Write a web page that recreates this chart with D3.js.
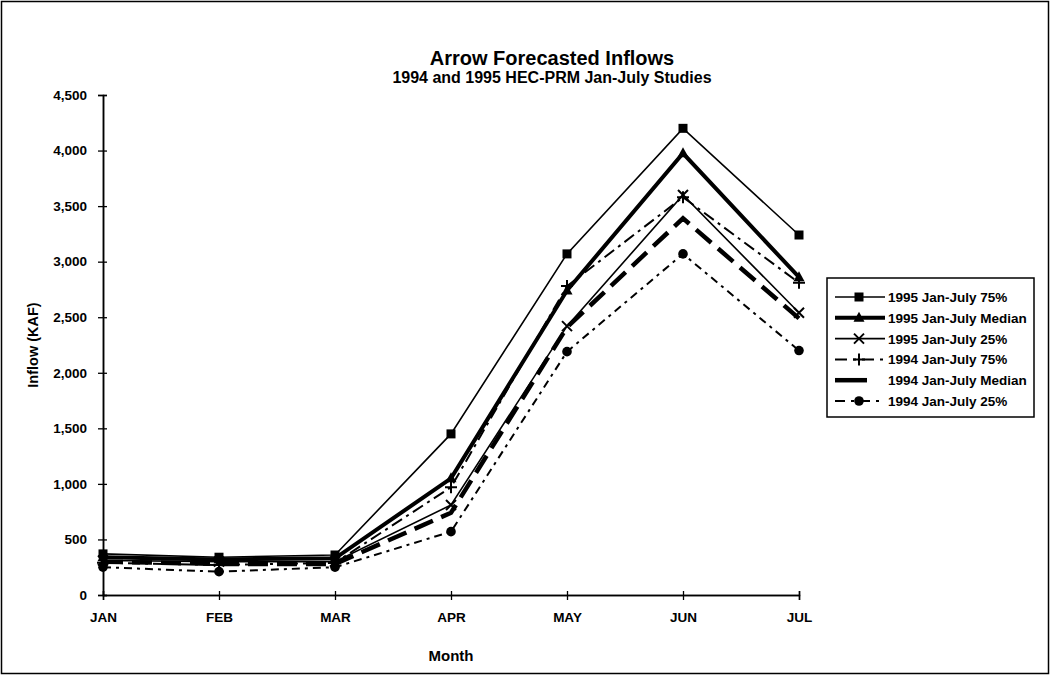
<!DOCTYPE html>
<html>
<head>
<meta charset="utf-8">
<script src="https://cdn.jsdelivr.net/npm/d3@7"></script>
<style>
  html, body { margin: 0; padding: 0; background: #fff; }
  svg { display: block; font-family: "Liberation Sans", Arial, Helvetica, sans-serif; }
</style>
</head>
<body>
<svg id="chart" width="1051" height="677"></svg>
<script>
const months = ["JAN", "FEB", "MAR", "APR", "MAY", "JUN", "JUL"];
const s1995_75  = [370, 340, 360, 1450, 3070, 4200, 3240];
const s1995_med = [340, 320, 330, 1050, 2740, 3975, 2860];
const s1995_25  = [310, 300, 300, 810, 2420, 3600, 2540];
const s1994_75  = [290, 270, 290, 970, 2780, 3580, 2810];
const s1994_med = [300, 280, 280, 740, 2410, 3390, 2490];
const s1994_25  = [250, 210, 250, 570, 2190, 3070, 2200];
const seriesNames = ["1995 Jan-July 75%", "1995 Jan-July Median", "1995 Jan-July 25%",
                     "1994 Jan-July 75%", "1994 Jan-July Median", "1994 Jan-July 25%"];
const yTicks = [0, 500, 1000, 1500, 2000, 2500, 3000, 3500, 4000, 4500];

const styles = [
  {values: s1995_75,  width: 1.6, dash: null,          legendDash: null,      marker: "square"},
  {values: s1995_med, width: 4,   dash: null,          legendDash: null,      marker: "triangle"},
  {values: s1995_25,  width: 1.6, dash: null,          legendDash: null,      marker: "x"},
  {values: s1994_75,  width: 2,   dash: "12,5,3,5",    legendDash: "12,6,3,6", marker: "plus"},
  {values: s1994_med, width: 4.5, dash: "20,9",        legendDash: "32,40",   marker: null},
  {values: s1994_25,  width: 2,   dash: "8,5,3,5",     legendDash: "10,6,3,6", marker: "circle"}
];

const svg = d3.select("#chart");
// outer frame
svg.append("rect").attr("x", 1.5).attr("y", 1.5).attr("width", 1047).attr("height", 672)
  .attr("fill", "none").attr("stroke", "#000").attr("stroke-width", 1.5);

const x = d3.scalePoint().domain(months).range([103, 799]);
const y = d3.scaleLinear().domain([0, 4500]).range([595, 95]);

// titles
svg.append("text").attr("x", 552).attr("y", 65).attr("text-anchor", "middle")
  .attr("font-size", 20).attr("font-weight", "bold").text("Arrow Forecasted Inflows");
svg.append("text").attr("x", 552).attr("y", 83).attr("text-anchor", "middle")
  .attr("font-size", 16).attr("font-weight", "bold").text("1994 and 1995 HEC-PRM Jan-July Studies");

// axes
const fmt = d3.format(",");
svg.append("g").attr("transform", "translate(103,0)")
  .call(d3.axisLeft(y).tickValues(yTicks).tickFormat(fmt).tickSize(5).tickPadding(11));
svg.append("g").attr("transform", "translate(103,0)")
  .call(d3.axisRight(y).tickValues(yTicks).tickFormat("").tickSize(4));
svg.append("g").attr("transform", "translate(0,595)")
  .call(d3.axisBottom(x).tickSize(5).tickPadding(12));
svg.append("g").attr("transform", "translate(0,595)")
  .call(d3.axisTop(x).tickFormat("").tickSize(4));
svg.selectAll(".domain").attr("stroke", "#000").attr("stroke-width", 1.5);
svg.selectAll(".tick line").attr("stroke", "#000").attr("stroke-width", 1.3);
svg.selectAll(".tick text").attr("font-family", "\"Liberation Sans\", Arial, sans-serif")
  .attr("font-size", 13.5).attr("font-weight", "bold").attr("fill", "#000");

// axis titles
svg.append("text").attr("transform", "translate(38,345) rotate(-90)")
  .attr("text-anchor", "middle").attr("font-size", 14.5).attr("font-weight", "bold").text("Inflow (KAF)");
svg.append("text").attr("x", 451).attr("y", 661).attr("text-anchor", "middle")
  .attr("font-size", 15).attr("font-weight", "bold").text("Month");

function drawMarker(g, type, cx, cy) {
  if (type === "square") {
    g.append("rect").attr("x", cx - 4.5).attr("y", cy - 4.5).attr("width", 9).attr("height", 9).attr("fill", "#000");
  } else if (type === "triangle") {
    g.append("path").attr("d", `M${cx},${cy - 6}L${cx + 5.5},${cy + 4}L${cx - 5.5},${cy + 4}Z`).attr("fill", "#000");
  } else if (type === "x") {
    g.append("path").attr("d", `M${cx - 5},${cy - 5}L${cx + 5},${cy + 5}M${cx - 5},${cy + 5}L${cx + 5},${cy - 5}`)
      .attr("stroke", "#000").attr("stroke-width", 2).attr("fill", "none");
  } else if (type === "plus") {
    g.append("path").attr("d", `M${cx - 6},${cy}L${cx + 6},${cy}M${cx},${cy - 6}L${cx},${cy + 6}`)
      .attr("stroke", "#000").attr("stroke-width", 2).attr("fill", "none");
  } else if (type === "circle") {
    g.append("circle").attr("cx", cx).attr("cy", cy).attr("r", 4.8).attr("fill", "#000");
  }
}

const line = d3.line().x((d, i) => x(months[i])).y(d => y(d));
const plot = svg.append("g");
styles.forEach(s => {
  plot.append("path").datum(s.values).attr("d", line)
    .attr("fill", "none").attr("stroke", "#000").attr("stroke-width", s.width)
    .attr("stroke-dasharray", s.dash).attr("stroke-linejoin", "miter");
});
styles.forEach(s => {
  if (!s.marker) return;
  s.values.forEach((v, i) => drawMarker(plot, s.marker, x(months[i]), y(v)));
});

// legend
const lg = svg.append("g");
lg.append("rect").attr("x", 827).attr("y", 278).attr("width", 207).attr("height", 139)
  .attr("fill", "#fff").attr("stroke", "#000").attr("stroke-width", 1.5);
styles.forEach((s, i) => {
  const cy = 297 + i * 20.8;
  lg.append("line").attr("x1", 835).attr("x2", 885).attr("y1", cy).attr("y2", cy)
    .attr("stroke", "#000").attr("stroke-width", s.width).attr("stroke-dasharray", s.legendDash);
  if (s.marker) drawMarker(lg, s.marker, 859, cy);
  lg.append("text").attr("x", 888).attr("y", cy + 5).attr("font-size", 13.5).attr("font-weight", "bold")
    .text(seriesNames[i]);
});
</script>
</body>
</html>
